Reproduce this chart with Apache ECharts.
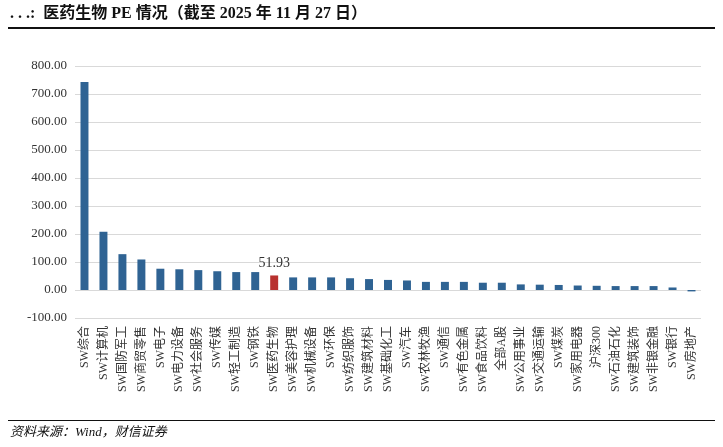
<!DOCTYPE html>
<html><head><meta charset="utf-8">
<script src="https://cdn.jsdelivr.net/npm/echarts@6/dist/echarts.min.js"></script>
<style>body{margin:0;background:#fff}#c{width:723px;height:447px}</style></head>
<body><div id="c"></div>
<script>
const categories=['SW综合','SW计算机','SW国防军工','SW商贸零售','SW电子','SW电力设备','SW社会服务','SW传媒','SW轻工制造','SW钢铁','SW医药生物','SW美容护理','SW机械设备','SW环保','SW纺织服饰','SW建筑材料','SW基础化工','SW汽车','SW农林牧渔','SW通信','SW有色金属','SW食品饮料','全部A股','SW公用事业','SW交通运输','SW煤炭','SW家用电器','沪深300','SW石油石化','SW建筑装饰','SW非银金融','SW银行','SW房地产'];
const peValues=[743,208,128,109,76,74,71,67,64,64,51.93,45,45,45,42,39,36,34,29,29,29,26,26,20,19,18,16,15,14,14,14,9,-5];
const highlight='SW医药生物';
const chart=echarts.init(document.getElementById('c'));
const font='"Liberation Serif","Noto Sans CJK SC",serif';
chart.setOption({
  animation:false,
  graphic:[
    {type:'text',left:10,top:6,style:{text:'. . .:  医药生物 PE 情况（截至 2025 年 11 月 27 日）',font:'bold 16px "Liberation Serif","Noto Sans CJK SC",serif',fill:'#111'}},
    {type:'rect',shape:{x:8,y:27,width:707,height:2},style:{fill:'#111'}},
    {type:'rect',shape:{x:8,y:420,width:707,height:1},style:{fill:'#111'}},
    {type:'text',left:10,top:426,style:{text:'资料来源：Wind，财信证券',font:'italic 13px "Liberation Serif","Noto Sans CJK SC",serif',fill:'#111'}}
  ],
  grid:{left:75,right:22,top:66,bottom:129},
  xAxis:{type:'category',data:categories,axisTick:{show:false},axisLine:{show:false},
    axisLabel:{interval:0,rotate:90,fontFamily:font,fontSize:12,color:'#333',margin:8}},
  yAxis:{type:'value',min:-100,max:800,interval:100,
    axisLabel:{formatter:v=>v.toFixed(2),fontFamily:font,fontSize:13,color:'#333',margin:8},
    splitLine:{lineStyle:{color:'#d9d9d9'}},axisLine:{show:false},axisTick:{show:false}},
  series:[{type:'bar',barWidth:'42%',
    data:peValues.map((v,i)=>({value:v,itemStyle:{color:categories[i]===highlight?'#b8312f':'#2f6393'},
      label:categories[i]===highlight?{show:true,position:'top',formatter:'51.93',fontFamily:font,fontSize:14,color:'#333'}:{show:false}}))
  }]
});
</script></body></html>
